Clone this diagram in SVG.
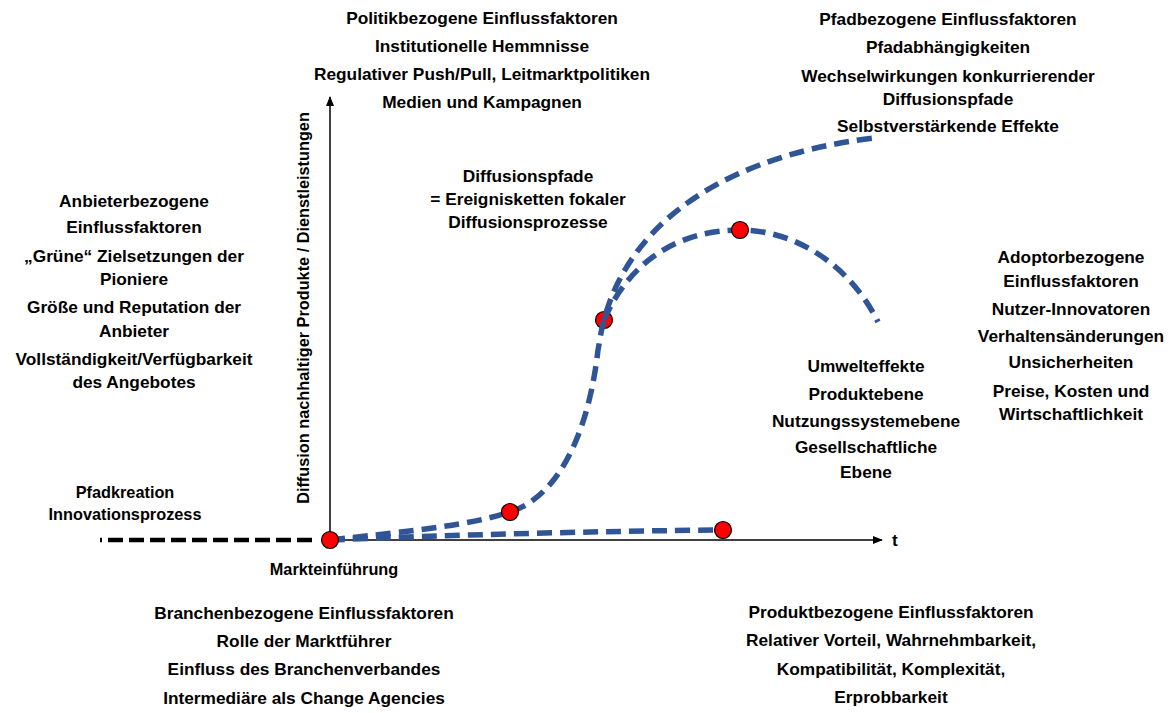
<svg xmlns="http://www.w3.org/2000/svg" width="1174" height="713" viewBox="0 0 1174 713">
<style>
text{font-family:"Liberation Sans",Arial,sans-serif;font-weight:bold;font-size:17.3px;fill:#000;text-anchor:middle}
.sm{font-size:16.3px}
.axis{stroke:#000;stroke-width:1.5;fill:none}
.path{stroke:#2F5597;stroke-width:5.5;fill:none;stroke-dasharray:15 8}
.pre{stroke:#000;stroke-width:4.5;fill:none;stroke-dasharray:15 6}
.dot{fill:#FF0000;stroke:#000;stroke-width:1.2}
</style>
<defs>
<marker id="ah" markerWidth="10" markerHeight="8" refX="9" refY="4" orient="auto" markerUnits="userSpaceOnUse">
<path d="M0,0 L10,4 L0,8 Z" fill="#000"/>
</marker>
</defs>
<rect width="1174" height="713" fill="#fff"/>

<g id="axes">
<line class="axis" x1="330" y1="540" x2="330" y2="97" marker-end="url(#ah)"/>
<line class="axis" x1="330" y1="540" x2="882" y2="540" marker-end="url(#ah)"/>
<text x="895" y="546">t</text>
<text class="sm" transform="translate(309,308) rotate(-90)">Diffusion nachhaltiger Produkte / Dienstleistungen</text>
</g>

<g id="node-p2"><circle class="dot" cx="604" cy="320" r="8.5"/></g>

<g id="connectors">
<path class="pre" d="M312,540 L100,540"/>
<path class="path" d="M330,540 C420,530 470,525 510,512 C565,494 590,420 598,350 C600,340 601,330 604,320 C625,240 700,160 873,138"/>
<path class="path" d="M604,320 C630,260 680,230 740,230 C795,230 850,265 878,322"/>
<path class="path" d="M330,540 C450,535 600,531 723,530"/>
</g>

<g id="node-origin"><circle class="dot" cx="330" cy="540" r="8.5"/></g>
<g id="node-p1"><circle class="dot" cx="510" cy="512" r="8.5"/></g>
<g id="node-p3"><circle class="dot" cx="740" cy="230" r="8.5"/></g>
<g id="node-p4"><circle class="dot" cx="723" cy="530" r="8.5"/></g>

<g id="politik">
<text x="482" y="24">Politikbezogene Einflussfaktoren</text>
<text x="482" y="52">Institutionelle Hemmnisse</text>
<text x="482" y="80">Regulativer Push/Pull, Leitmarktpolitiken</text>
<text x="482" y="108">Medien und Kampagnen</text>
</g>

<g id="pfad">
<text x="948" y="25">Pfadbezogene Einflussfaktoren</text>
<text x="948" y="53">Pfadabhängigkeiten</text>
<text x="948" y="82">Wechselwirkungen konkurrierender</text>
<text x="948" y="105">Diffusionspfade</text>
<text x="948" y="132">Selbstverstärkende Effekte</text>
</g>

<g id="diffusionspfade">
<text x="528" y="182">Diffusionspfade</text>
<text x="528" y="205">= Ereignisketten fokaler</text>
<text x="528" y="228">Diffusionsprozesse</text>
</g>

<g id="anbieter">
<text x="134" y="207">Anbieterbezogene</text>
<text x="134" y="233">Einflussfaktoren</text>
<text x="134" y="262">„Grüne“ Zielsetzungen der</text>
<text x="134" y="285">Pioniere</text>
<text x="134" y="313">Größe und Reputation der</text>
<text x="134" y="337">Anbieter</text>
<text x="134" y="365">Vollständigkeit/Verfügbarkeit</text>
<text x="134" y="388">des Angebotes</text>
</g>

<g id="adoptor">
<text x="1071" y="263">Adoptorbezogene</text>
<text x="1071" y="287">Einflussfaktoren</text>
<text x="1071" y="315">Nutzer-Innovatoren</text>
<text x="1071" y="342">Verhaltensänderungen</text>
<text x="1071" y="368">Unsicherheiten</text>
<text x="1071" y="397">Preise, Kosten und</text>
<text x="1071" y="420">Wirtschaftlichkeit</text>
</g>

<g id="umwelt">
<text x="866" y="372">Umwelteffekte</text>
<text x="866" y="400">Produktebene</text>
<text x="866" y="427">Nutzungssystemebene</text>
<text x="866" y="453">Gesellschaftliche</text>
<text x="866" y="478">Ebene</text>
</g>

<g id="pfadkreation">
<text class="sm" x="125" y="498">Pfadkreation</text>
<text class="sm" x="125" y="520">Innovationsprozess</text>
</g>

<g id="markteinfuehrung">
<text class="sm" x="334" y="575">Markteinführung</text>
</g>

<g id="branche">
<text x="304" y="619">Branchenbezogene Einflussfaktoren</text>
<text x="304" y="647">Rolle der Marktführer</text>
<text x="304" y="675">Einfluss des Branchenverbandes</text>
<text x="304" y="704">Intermediäre als Change Agencies</text>
</g>

<g id="produkt">
<text x="891" y="618">Produktbezogene Einflussfaktoren</text>
<text x="891" y="646">Relativer Vorteil, Wahrnehmbarkeit,</text>
<text x="891" y="675">Kompatibilität, Komplexität,</text>
<text x="891" y="703">Erprobbarkeit</text>
</g>
</svg>
